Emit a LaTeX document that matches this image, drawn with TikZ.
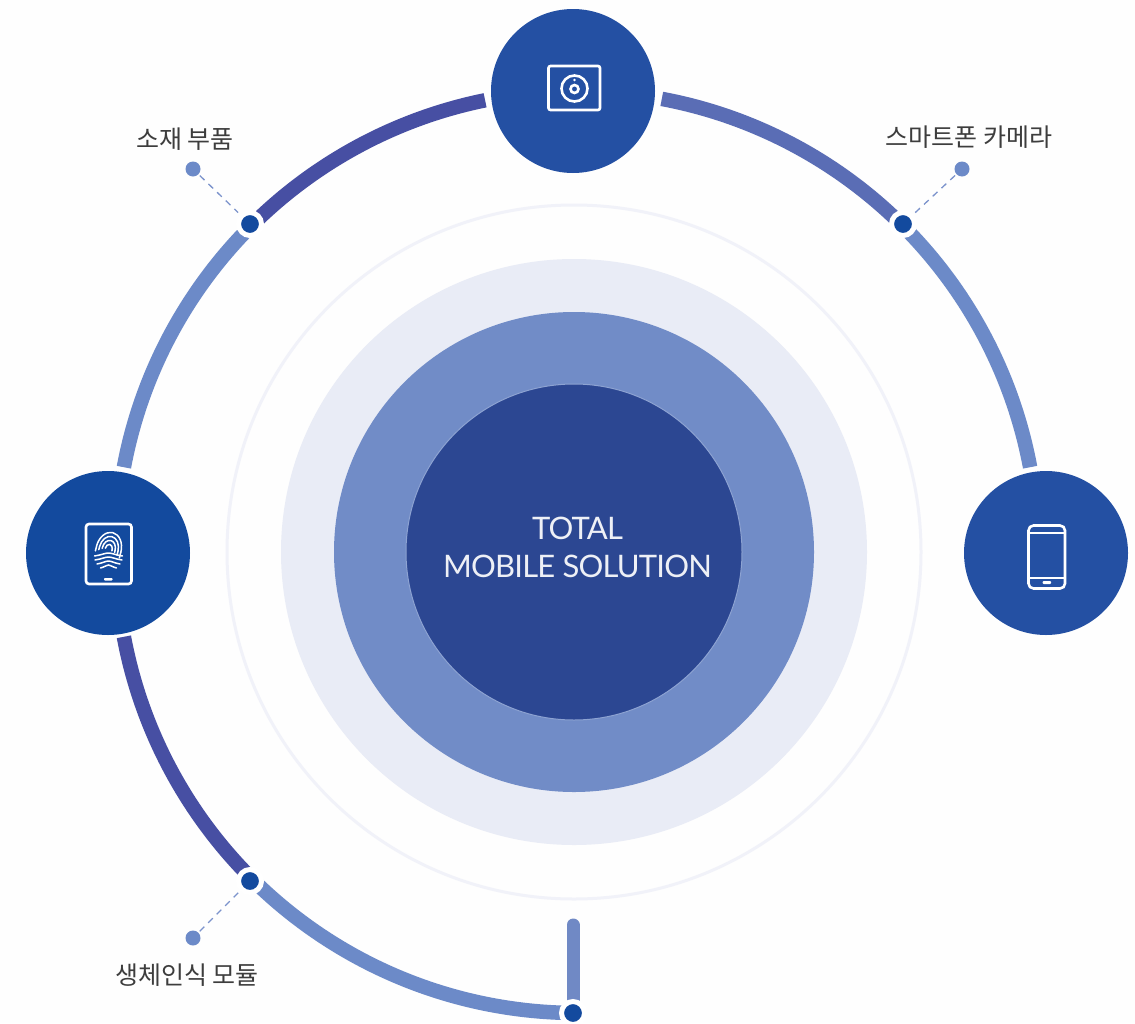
\documentclass[tikz,border=0pt]{standalone}
\usepackage{fontspec}
\setmainfont{Noto Sans CJK KR}
\newfontfamily\latinfont[LetterSpace=-2.6]{Lato}
\definecolor{bgc}{HTML}{FEFEFE}
\definecolor{arcdark}{HTML}{474FA3}
\definecolor{arcmid}{HTML}{5A6DB5}
\definecolor{arclight}{HTML}{6C8AC8}
\definecolor{stubc}{HTML}{7089C5}
\definecolor{hubA}{HTML}{2450A3}
\definecolor{hubB}{HTML}{134A9E}
\definecolor{ringc}{HTML}{F1F2F9}
\definecolor{paleC}{HTML}{E9ECF6}
\definecolor{midC}{HTML}{718CC7}
\definecolor{coreC}{HTML}{2C4792}
\definecolor{labelc}{HTML}{3D3D3D}
\definecolor{dashc}{HTML}{7C93CC}
\tikzset{
  x=1pt,y=1pt,
  disc/.style={circle,inner sep=0pt,outer sep=0pt,minimum size=#1},
  hub/.style={disc=164pt,fill=hubA},
  seg/.style={line width=14.5pt,line cap=butt},
  joint/.style={disc=23pt,fill=hubB,draw=white,line width=5pt},
  tip/.style={disc=15pt,fill=arclight},
  leader/.style={draw=dashc,line width=1.3pt,dash pattern=on 6.5pt off 5.5pt,shorten <=2pt,shorten >=5pt},
  tag/.style={text=labelc,font=\fontsize{25}{29}\selectfont,inner sep=0pt},
  icon/.style={draw=white,line width=2.6pt},
  print/.style={draw=white,line width=1.5pt,line cap=round}
}
\begin{document}
\begin{tikzpicture}
\fill[bgc] (0,0) rectangle (1135,-1023);
\useasboundingbox (0,0) rectangle (1135,-1023);
\coordinate (c) at (574,-552);
\coordinate (o) at (577,-552);
% concentric discs
\node[disc=694pt,draw=ringc,line width=3pt,fill=bgc] (ring) at (c) {};
\node[disc=586pt,fill=paleC] (pale) at (c) {};
\node[disc=480pt,fill=midC] (mid) at (c) {};
\node[disc=336pt,fill=coreC,draw=midC!80!white,line width=1pt] (core) at (c) {};
\node[text=white!92!coreC,align=center,inner sep=0pt,font=\latinfont\fontsize{31}{38}\selectfont] (title) at (577.5,-547) {TOTAL\\MOBILE SOLUTION};
% outer arc segments
\draw[seg,arcdark] ([shift={(101.5:461)}]o) arc[start angle=101.5,end angle=135,radius=461];
\draw[seg,arclight] ([shift={(135:461)}]o) arc[start angle=135,end angle=169.4,radius=461];
\draw[seg,arcdark] ([shift={(190.6:461)}]o) arc[start angle=190.6,end angle=225,radius=461];
\draw[seg,arclight] ([shift={(225:461)}]o) arc[start angle=225,end angle=269.5,radius=461];
\draw[seg,arcmid] ([shift={(79.4:461)}]o) arc[start angle=79.4,end angle=45,radius=461];
\draw[seg,arclight] ([shift={(45:461)}]o) arc[start angle=45,end angle=10.6,radius=461];
% stub
\coordinate (stubtop) at (573,-925);
\coordinate (stubend) at (573,-1005);
\draw[stubc,line width=13pt,line cap=round] (stubtop) -- (573,-990);
\draw[stubc,line width=13pt] (573,-990) -- (stubend);
% small tips
\node[tip] (t1) at (193,-169) {};
\node[tip] (t2) at (962,-169) {};
\node[tip] (t3) at (193,-938) {};
% joints
\node[joint] (j1) at (250,-224) {};
\node[joint] (j2) at (903,-224) {};
\node[joint] (j3) at (250,-881) {};
\node[joint] (j4) at (573,-1013) {};
\draw[leader] (t1) -- (j1);
\draw[leader] (t2) -- (j2);
\draw[leader] (t3) -- (j3);
% labels
\node[tag] (l1) at (185,-139) {소재 부품};
\node[tag] (l2) at (969,-137) {스마트폰 카메라};
\node[tag] (l3) at (187,-975) {생체인식 모듈};
% hubs
\node[hub] (top) at (573,-91) {};
\node[hub,fill=hubB] (left) at (108,-553) {};
\node[hub] (right) at (1046,-553) {};
% camera icon
\draw[icon,rounded corners=2pt] (548.5,-66) rectangle (600,-110);
\draw[icon] (574.5,-88.5) circle[radius=13];
\draw[icon] (574.5,-89) circle[radius=4];
\fill[white] (574.5,-80) circle[radius=1.4];
% phone icon
\draw[icon,rounded corners=5pt] (1028.5,-525.5) rectangle (1065,-588.5);
\draw[icon] (1028.5,-533) -- (1065,-533);
\draw[icon] (1028.5,-578) -- (1065,-578);
\fill[white,rounded corners=1pt] (1042.5,-581) rectangle (1051,-584);
% fingerprint tablet
\draw[icon,rounded corners=3pt] (86,-524) rectangle (131.5,-584);
\fill[white,rounded corners=.8pt] (104,-578) rectangle (112.5,-580.5);
\begin{scope}[rotate around={-14:(108.5,-550)}]
\foreach \r/\e in {12.5/5,9.5/3,6.5/1,3.5/0}{
  \draw[print] (108.5+\r,-549) arc[start angle=0,end angle=180,x radius=\r,y radius=\r*1.35] -- ++(0,-\e);
  \draw[print] (108.5+\r,-549) -- ++(0,-\e-1);
}
\end{scope}
\foreach \y/\w in {-556/14,-560/13.5,-564/11.5,-568/8}{
  \draw[print] (108.5-\w,\y) .. controls (108.5-\w/2,\y+1) and (108.5-\w/4,\y+3) .. (108.5,\y+3) .. controls (108.5+\w/4,\y+3) and (108.5+\w/2,\y+1) .. (108.5+\w,\y);
}
\end{tikzpicture}
\end{document}
